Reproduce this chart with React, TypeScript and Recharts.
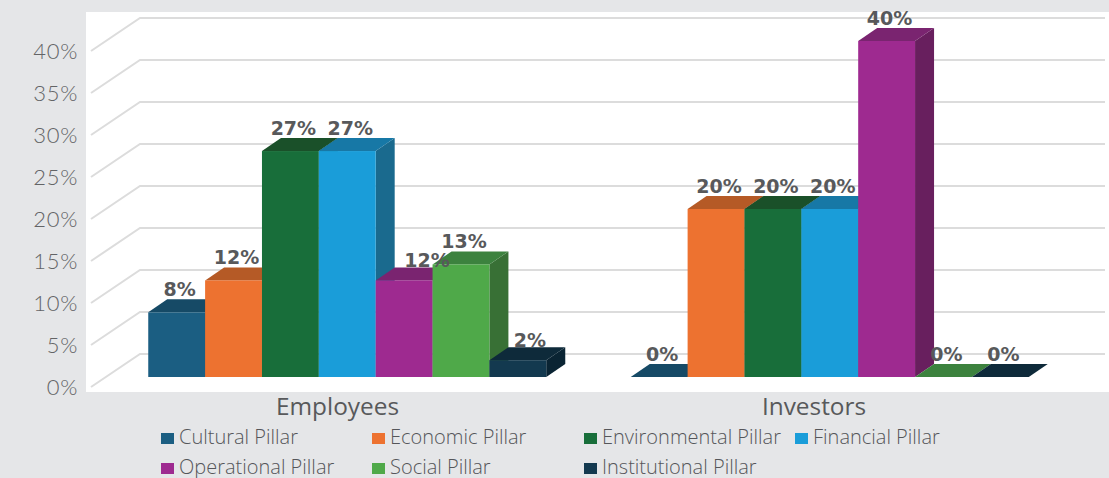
import React from "react";
import { BarChart, Bar, XAxis, YAxis, CartesianGrid, Legend, LabelList } from "recharts";

const categories = ["Employees", "Investors"];
const cultural = [7.7, 0];
const economic = [11.5, 20];
const environmental = [26.9, 20];
const financial = [26.9, 20];
const operational = [11.5, 40];
const social = [13.4, 0];
const institutional = [2, 0];
const yTicks = [0, 5, 10, 15, 20, 25, 30, 35, 40];

const seriesDefs = [
  { name: "Cultural Pillar", values: cultural, front: "#1b5e82", top: "#164a66", side: "#174e6c" },
  { name: "Economic Pillar", values: economic, front: "#ed7230", top: "#b55a26", side: "#b55a26" },
  { name: "Environmental Pillar", values: environmental, front: "#186e3a", top: "#1a5029", side: "#14532c" },
  { name: "Financial Pillar", values: financial, front: "#1a9dd9", top: "#1778a6", side: "#1a6a8e" },
  { name: "Operational Pillar", values: operational, front: "#9e2a90", top: "#7a2470", side: "#681f5e" },
  { name: "Social Pillar", values: social, front: "#4fa949", top: "#3c823e", side: "#387035" },
  { name: "Institutional Pillar", values: institutional, front: "#13394f", top: "#0e2a3a", side: "#0a2433" },
];

const data = categories.map((c, i) => {
  const row: Record<string, string | number> = { category: c };
  seriesDefs.forEach((s) => (row[s.name] = s.values[i]));
  return row;
});

const DX = 19;
const DY = 13;
const FONT = "'Open Sans', sans-serif";

const bar3d = (front: string, top: string, side: string) => (p: any) => {
  const { x, y, width, height } = p;
  const b = y + height;
  return (
    <g>
      <polygon points={`${x + width},${y} ${x + width + DX},${y - DY} ${x + width + DX},${b - DY} ${x + width},${b}`} fill={side} />
      <polygon points={`${x},${y} ${x + width},${y} ${x + width + DX},${y - DY} ${x + DX},${y - DY}`} fill={top} />
      {height > 0 && <rect x={x} y={y} width={width} height={height} fill={front} />}
    </g>
  );
};

const gridLine = (p: any) => {
  const y = p.y1;
  return (
    <path
      key={p.key ?? p.index}
      d={`M91,${y + 10} L140,${y - 23} L1105,${y - 23}`}
      fill="none"
      stroke="#dcdcdc"
      strokeWidth={2}
    />
  );
};

const YTick = (p: any) => (
  <text x={78} y={p.y + 18} textAnchor="end" fontFamily="Lato, sans-serif" fontWeight={300} fontSize={22} fill="#636466" letterSpacing={0.7}>
    {p.payload.value}%
  </text>
);

const xLabelShift = [-10, -16];
const XTick = (p: any) => (
  <text x={p.x + xLabelShift[p.payload.index ?? p.index]} y={p.y + 30} textAnchor="middle" fontFamily={FONT} fontWeight={500} fontSize={24.4} fill="#58595b">
    {p.payload.value}
  </text>
);

const labelNudge = (name: string, index: number): [number, number] => {
  if (index !== 0) return [0, 0];
  if (name === "Operational Pillar") return [20, 3];
  if (name === "Institutional Pillar") return [9, 3];
  return [0, 0];
};

const barLabel = (name: string) => (p: any) => {
  const [nx, ny] = labelNudge(name, p.index);
  return (
    <text
      x={p.x + p.width / 2 + 3 + nx}
      y={p.y - 16 + ny}
      textAnchor="middle"
      fontFamily="'DejaVu Sans', sans-serif"
      fontWeight={700}
      fontSize={19}
      fill="#58595b"
    >
      {Math.round(p.value)}%
    </text>
  );
};

const legendColumns = [161, 372, 584, 795];
const LegendContent = () => (
  <div style={{ position: "relative", width: 1109, height: 56 }}>
    {seriesDefs.map((s, i) => (
      <div
        key={s.name}
        style={{
          position: "absolute",
          left: legendColumns[i % 4],
          top: Math.floor(i / 4) * 30 + 4,
          height: 22,
          lineHeight: "22px",
          whiteSpace: "nowrap",
          fontFamily: FONT,
          fontWeight: 300,
          fontSize: 20,
          color: "#55565a",
        }}
      >
        <span style={{ display: "inline-block", width: 13, height: 11, background: s.front, marginRight: 5 }} />
        {s.name}
      </div>
    ))}
  </div>
);

export default function App() {
  return (
    <div style={{ position: "absolute", left: 0, top: 0, width: 1109, height: 478, background: "#e5e6e8", overflow: "hidden" }}>
      <div style={{ position: "absolute", left: 86, top: 12, width: 1023, height: 380, background: "#ffffff" }} />
      <BarChart
        width={1109}
        height={478}
        data={data}
        barSize={56.86}
        barGap={0}
        margin={{ top: 41, right: 37.75, bottom: 0, left: 46.25 }}
        style={{ position: "absolute", left: 0, top: 0 }}
      >
        <CartesianGrid vertical={false} horizontal={gridLine} />
        <XAxis dataKey="category" axisLine={false} tickLine={false} height={45} tick={<XTick />} interval={0} />
        <YAxis width={60} domain={[0, 40]} ticks={yTicks} axisLine={false} tickLine={false} tick={<YTick />} interval={0} />
        <Legend
          content={<LegendContent />}
          verticalAlign="bottom"
          align="left"
          height={56}
          width={1109}
          wrapperStyle={{ left: 0, bottom: 0 }}
        />
        {seriesDefs.map((s) => (
          <Bar key={s.name} dataKey={s.name} isAnimationActive={false} shape={bar3d(s.front, s.top, s.side)}>
            <LabelList dataKey={s.name} content={barLabel(s.name)} />
          </Bar>
        ))}
      </BarChart>
    </div>
  );
}
